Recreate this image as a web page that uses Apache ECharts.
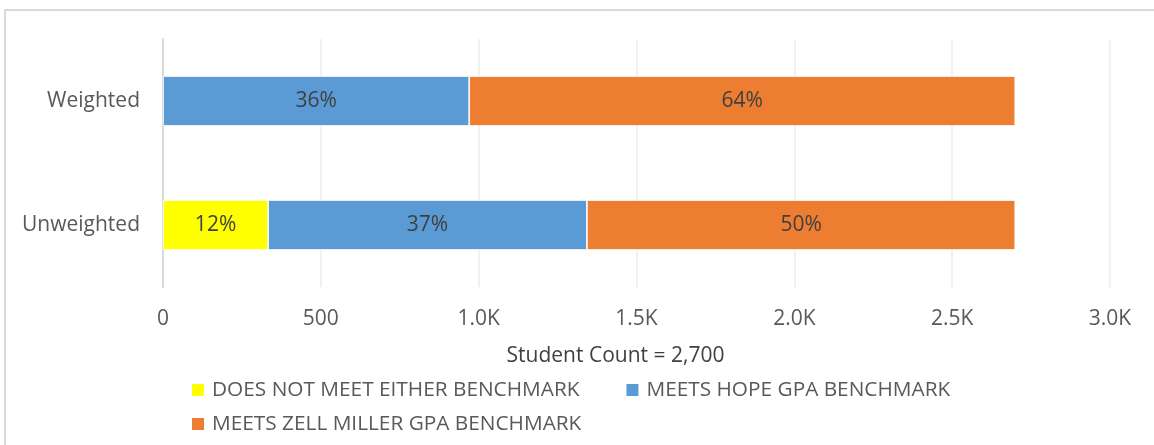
<!DOCTYPE html>
<html>
<head>
<meta charset="utf-8">
<script src="https://cdn.jsdelivr.net/npm/echarts@6/dist/echarts.min.js"></script>
<style>
html,body{margin:0;padding:0;background:#fff;}
#c{width:1154px;height:445px;}
</style>
</head>
<body>
<div id="c"></div>
<script>
const categories = ['Unweighted', 'Weighted'];
const seriesNames = ['DOES NOT MEET EITHER BENCHMARK', 'MEETS HOPE GPA BENCHMARK', 'MEETS ZELL MILLER GPA BENCHMARK'];
const doesNotMeet = [333, 0];
const meetsHope = [1010, 970];
const meetsZell = [1357, 1730];
const xTicks = [0, 500, 1000, 1500, 2000, 2500, 3000];
const xAxisTitle = 'Student Count = 2,700';

const colors = ['#FFFF00', '#5B9BD5', '#ED7D31'];
const values = [doesNotMeet, meetsHope, meetsZell];
const totals = categories.map((c, i) => values.reduce((s, arr) => s + arr[i], 0));
const FONT = 'Open Sans';

const chart = echarts.init(document.getElementById('c'));
chart.setOption({
  animation: false,
  graphic: [
    { type: 'rect', shape: { x: 5, y: 10, width: 1300, height: 600 }, style: { fill: 'none', stroke: '#d9d9d9', lineWidth: 2 } },
    { type: 'text', x: 300, y: 1, style: { text: 'g', font: '28px "Liberation Serif"', fill: '#000', align: 'center', verticalAlign: 'bottom' } }
  ],
  grid: { left: 163, right: 44, top: 39, bottom: 158 },
  legend: [
    {
      data: seriesNames.slice(0, 2), left: 190, top: 378, padding: 0, itemGap: 45,
      itemWidth: 14, itemHeight: 14, icon: 'rect',
      textStyle: { fontFamily: FONT, fontSize: 20.8, color: '#595959', lineHeight: 24, padding: [0, 0, 0, 2] }
    },
    {
      data: seriesNames.slice(2), left: 190, top: 412, padding: 0,
      itemWidth: 14, itemHeight: 14, icon: 'rect',
      textStyle: { fontFamily: FONT, fontSize: 20.8, color: '#595959', lineHeight: 24, padding: [0, 0, 0, 2] }
    }
  ],
  xAxis: {
    type: 'value', min: xTicks[0], max: xTicks[xTicks.length - 1], interval: 500,
    axisLine: { show: false }, axisTick: { show: false },
    splitLine: { lineStyle: { color: '#ececec', width: 1.5 } },
    axisLabel: {
      fontFamily: FONT, fontSize: 21, color: '#595959', margin: 22,
      formatter: v => v === 0 ? '0' : (v < 1000 ? String(v) : (v / 1000).toFixed(1) + 'K')
    },
    name: xAxisTitle, nameLocation: 'middle', nameGap: 59,
    nameTextStyle: { fontFamily: FONT, fontSize: 21, color: '#404040', padding: [0, 42, 0, 0] }
  },
  yAxis: {
    type: 'category', data: categories,
    axisLine: { show: true, lineStyle: { color: '#d9d9d9', width: 2 } },
    axisTick: { show: false },
    axisLabel: { fontFamily: FONT, fontSize: 21, color: '#595959', margin: 23 }
  },
  series: seriesNames.map((name, k) => ({
    name, type: 'bar', stack: 'total', barWidth: 50,
    data: values[k].map(v => v === 0 ? null : v),
    itemStyle: { color: colors[k], borderColor: '#ffffff', borderWidth: 0.8 },
    label: {
      show: true, position: 'inside', fontFamily: FONT, fontSize: 21, color: '#404040',
      formatter: p => Math.round(p.value / totals[p.dataIndex] * 100) + '%'
    }
  }))
});
</script>
</body>
</html>
